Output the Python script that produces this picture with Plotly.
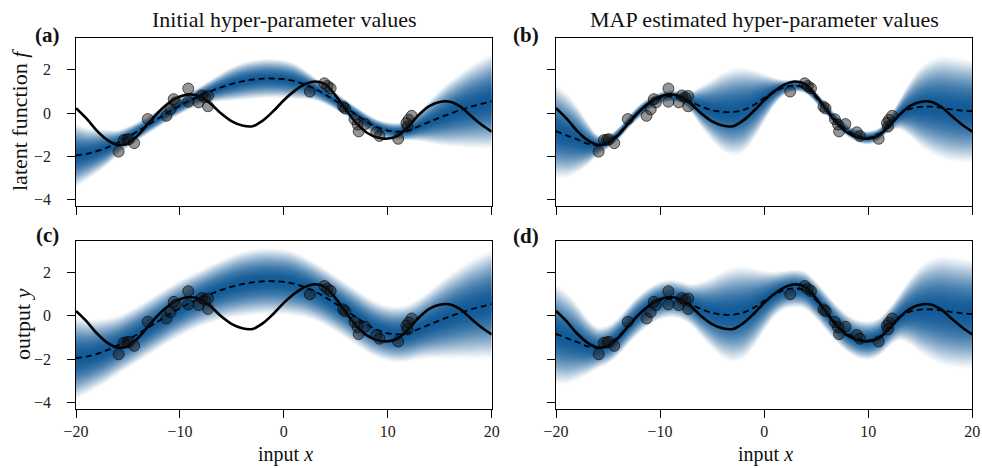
import plotly.graph_objects as go

# ---------------- data ----------------
x_grid = list(range(-20, 21))

truth_f = [0.23, -0.24, -0.80, -1.23, -1.46, -1.38, -1.00, -0.45, 0.08, 0.50,
           0.77, 0.87, 0.76, 0.42, -0.03, -0.38, -0.57, -0.60, -0.33, 0.10,
           0.60, 1.02, 1.33, 1.46, 1.33, 0.80, 0.14, -0.47, -0.90, -1.12,
           -1.17, -1.03, -0.60, -0.07, 0.33, 0.52, 0.53, 0.30, -0.12, -0.52,
           -0.85]

mean_init = [-1.95, -1.88, -1.75, -1.58, -1.36, -1.10, -0.82, -0.52, -0.22, 0.08,
             0.35, 0.60, 0.82, 1.02, 1.20, 1.35, 1.47, 1.55, 1.60, 1.60,
             1.57, 1.48, 1.33, 1.12, 0.86, 0.56, 0.24, -0.08, -0.40, -0.65,
             -0.80, -0.85, -0.78, -0.60, -0.40, -0.20, -0.02, 0.15, 0.30, 0.43,
             0.55]

mean_map = [-0.83, -1.02, -1.20, -1.40, -1.47, -1.32, -0.95, -0.40, 0.08, 0.45,
            0.70, 0.80, 0.72, 0.52, 0.30, 0.14, 0.06, 0.06, 0.15, 0.38,
            0.70, 1.00, 1.20, 1.27, 1.16, 0.72, 0.17, -0.37, -0.80, -1.06,
            -1.13, -0.98, -0.52, -0.06, 0.20, 0.29, 0.30, 0.26, 0.18, 0.12,
            0.09]

spread_latent_init = [1.50, 1.25, 1.05, 0.85, 0.60, 0.50, 0.45, 0.42, 0.42, 0.42,
                      0.42, 0.42, 0.45, 0.55, 0.68, 0.80, 0.88, 0.92, 0.93, 0.92,
                      0.90, 0.85, 0.70, 0.55, 0.47, 0.42, 0.40, 0.38, 0.38, 0.38,
                      0.40, 0.42, 0.50, 0.70, 1.00, 1.30, 1.55, 1.75, 1.95, 2.10,
                      2.25]

spread_output_init = [1.95, 1.77, 1.63, 1.51, 1.39, 1.35, 1.33, 1.32, 1.32, 1.32,
                      1.32, 1.32, 1.33, 1.37, 1.42, 1.48, 1.53, 1.55, 1.56, 1.55,
                      1.54, 1.51, 1.43, 1.37, 1.34, 1.32, 1.31, 1.31, 1.31, 1.31,
                      1.31, 1.32, 1.35, 1.43, 1.60, 1.80, 1.99, 2.15, 2.32, 2.44,
                      2.57]

spread_latent_map = [2.20, 2.00, 1.60, 1.05, 0.50, 0.32, 0.30, 0.30, 0.32, 0.30,
                     0.28, 0.28, 0.28, 0.50, 1.00, 1.45, 1.85, 2.05, 2.00, 1.65,
                     1.15, 0.65, 0.35, 0.28, 0.28, 0.28, 0.28, 0.28, 0.28, 0.30,
                     0.32, 0.30, 0.35, 0.70, 1.30, 1.85, 2.20, 2.40, 2.45, 2.45,
                     2.40]

spread_output_map = [2.36, 2.17, 1.81, 1.35, 0.99, 0.91, 0.90, 0.90, 0.91, 0.90,
                     0.89, 0.89, 0.89, 0.99, 1.31, 1.68, 2.04, 2.22, 2.17, 1.86,
                     1.43, 1.07, 0.92, 0.89, 0.89, 0.89, 0.89, 0.89, 0.89, 0.90,
                     0.91, 0.90, 0.92, 1.10, 1.55, 2.04, 2.36, 2.55, 2.59, 2.59,
                     2.55]

obs_x = [-15.9, -15.4, -15.1, -14.9, -14.4, -13.1, -11.3, -10.9, -10.6, -10.4,
         -9.2, -9.2, -8.2, -7.9, -7.6, -7.3, -7.3, 2.5, 3.9, 4.2,
         4.5, 5.7, 5.9, 6.8, 7.1, 7.2, 7.8, 8.9, 9.2, 11.0,
         11.8, 11.9, 12.0, 12.3]
obs_y = [-1.77, -1.24, -1.22, -1.20, -1.38, -0.27, -0.12, 0.18, 0.65, 0.50,
         1.14, 0.53, 0.50, 0.82, 0.74, 0.80, 0.32, 1.00, 1.38, 1.25,
         1.15, 0.30, 0.22, -0.28, -0.52, -0.84, -0.50, -0.88, -1.05, -1.18,
         -0.45, -0.62, -0.30, -0.12]

x_ticks = [-20, -10, 0, 10, 20]
y_ticks = [-4, -2, 0, 2]
y_tick_labels = ["\u22124", "\u22122", "0", "2"]

titles = ["Initial hyper-parameter values", "MAP estimated hyper-parameter values"]
panel_tags = ["(a)", "(b)", "(c)", "(d)"]
y_titles = ["latent function <i>f</i>", "output <i>y</i>"]
x_title = "input <i>x</i>"

# ---------------- styling ----------------
W, H = 982, 468
FONT = "Liberation Serif"
N_LAYERS = 40
BAND_RGB = "16,90,152"


def target_opacity(f):
    # opacity of the shading at fraction f of the band half-width
    return 0.97 * max(0.0, 1.0 - f * f) ** 1.3


# per-layer alphas (outermost first) so that stacked layers follow the profile
layer_alpha = []
prev = 0.0
for i in range(N_LAYERS, 0, -1):
    o = target_opacity((i - 0.5) / N_LAYERS)
    a = 1.0 - (1.0 - o) / (1.0 - prev)
    layer_alpha.append((i / N_LAYERS, max(a, 0.0)))
    prev = o

panels = [
    ("x", "y", mean_init, spread_latent_init),
    ("x2", "y2", mean_map, spread_latent_map),
    ("x3", "y3", mean_init, spread_output_init),
    ("x4", "y4", mean_map, spread_output_map),
]

fig = go.Figure()
for xa, ya, mu, sp in panels:
    for frac, a in layer_alpha:
        lo = [m - frac * s for m, s in zip(mu, sp)]
        hi = [m + frac * s for m, s in zip(mu, sp)]
        fig.add_trace(go.Scatter(x=x_grid, y=lo, mode="lines",
                                 line=dict(width=0, shape="spline"),
                                 xaxis=xa, yaxis=ya, showlegend=False, hoverinfo="skip"))
        fig.add_trace(go.Scatter(x=x_grid, y=hi, mode="lines",
                                 line=dict(width=0, shape="spline"),
                                 fill="tonexty", fillcolor=f"rgba({BAND_RGB},{a:.4f})",
                                 xaxis=xa, yaxis=ya, showlegend=False, hoverinfo="skip"))
    fig.add_trace(go.Scatter(x=x_grid, y=mu, mode="lines",
                             line=dict(color="black", width=1.8, dash="6px,4px", shape="spline"),
                             xaxis=xa, yaxis=ya, showlegend=False))
    fig.add_trace(go.Scatter(x=x_grid, y=truth_f, mode="lines",
                             line=dict(color="black", width=2.6, shape="spline"),
                             xaxis=xa, yaxis=ya, showlegend=False))
    fig.add_trace(go.Scatter(x=obs_x, y=obs_y, mode="markers",
                             marker=dict(size=11, color="rgba(20,20,20,0.45)",
                                         line=dict(width=1, color="rgba(0,0,0,0.6)")),
                             xaxis=xa, yaxis=ya, showlegend=False))

# panel domains in pixels
col_px = [(76, 491.7), (556, 972.3)]
row_px = [(38, 206), (240.7, 408.7)]


def dom_x(c):
    return [col_px[c][0] / W, col_px[c][1] / W]


def dom_y(r):
    return [1 - row_px[r][1] / H, 1 - row_px[r][0] / H]


axis_common = dict(showline=True, linecolor="black", linewidth=1.3, mirror=True,
                   ticks="outside", ticklen=8, tickwidth=1.2, tickcolor="black",
                   showgrid=False, zeroline=False, automargin=False,
                   tickfont=dict(family=FONT, size=16, color="#222"))

layout = dict(width=W, height=H, margin=dict(l=0, r=0, t=0, b=0, pad=0),
              paper_bgcolor="white", plot_bgcolor="white", showlegend=False)

names = ["", "2", "3", "4"]
for idx, n in enumerate(names):
    r, c = divmod(idx, 2)
    layout["xaxis" + n] = dict(axis_common, domain=dom_x(c), range=[-20, 20],
                               tickvals=x_ticks, showticklabels=(r == 1),
                               anchor="y" + n)
    layout["yaxis" + n] = dict(axis_common, domain=dom_y(r), range=[-4.28, 3.47],
                               tickvals=y_ticks, showticklabels=False,
                               anchor="x" + n)
fig.update_layout(**layout)


def ann(text, xp, yp, size, angle=0, bold=False):
    fig.add_annotation(text=f"<b>{text}</b>" if bold else text,
                       x=xp / W, y=1 - yp / H, xref="paper", yref="paper",
                       showarrow=False, textangle=angle, xanchor="center", yanchor="middle",
                       font=dict(family=FONT, size=size, color="#111"))


# y tick labels for the left column, placed on the y scale of each axis
for yref in ["y", "y3"]:
    for v, lab in zip(y_ticks, y_tick_labels):
        fig.add_annotation(text=lab, x=53 / W, xref="paper", y=v, yref=yref,
                           xanchor="right", yanchor="middle", showarrow=False,
                           font=dict(family=FONT, size=16, color="#222"))

ann(titles[0], 284, 20, 22)
ann(titles[1], 764, 20, 22)
ann(panel_tags[0], 47, 35, 21, bold=True)
ann(panel_tags[1], 526, 35, 21, bold=True)
ann(panel_tags[2], 47, 235, 21, bold=True)
ann(panel_tags[3], 526, 236, 21, bold=True)
ann(y_titles[0], 20, 120, 22, angle=-90)
ann(y_titles[1], 22, 324, 22, angle=-90)
ann(x_title, 285, 454, 20)
ann(x_title, 765, 454, 20)

fig.write_html("out.html",
               config={"displayModeBar": False},
               post_script="document.body.style.margin='0';"
                           "document.body.style.overflow='hidden';")
